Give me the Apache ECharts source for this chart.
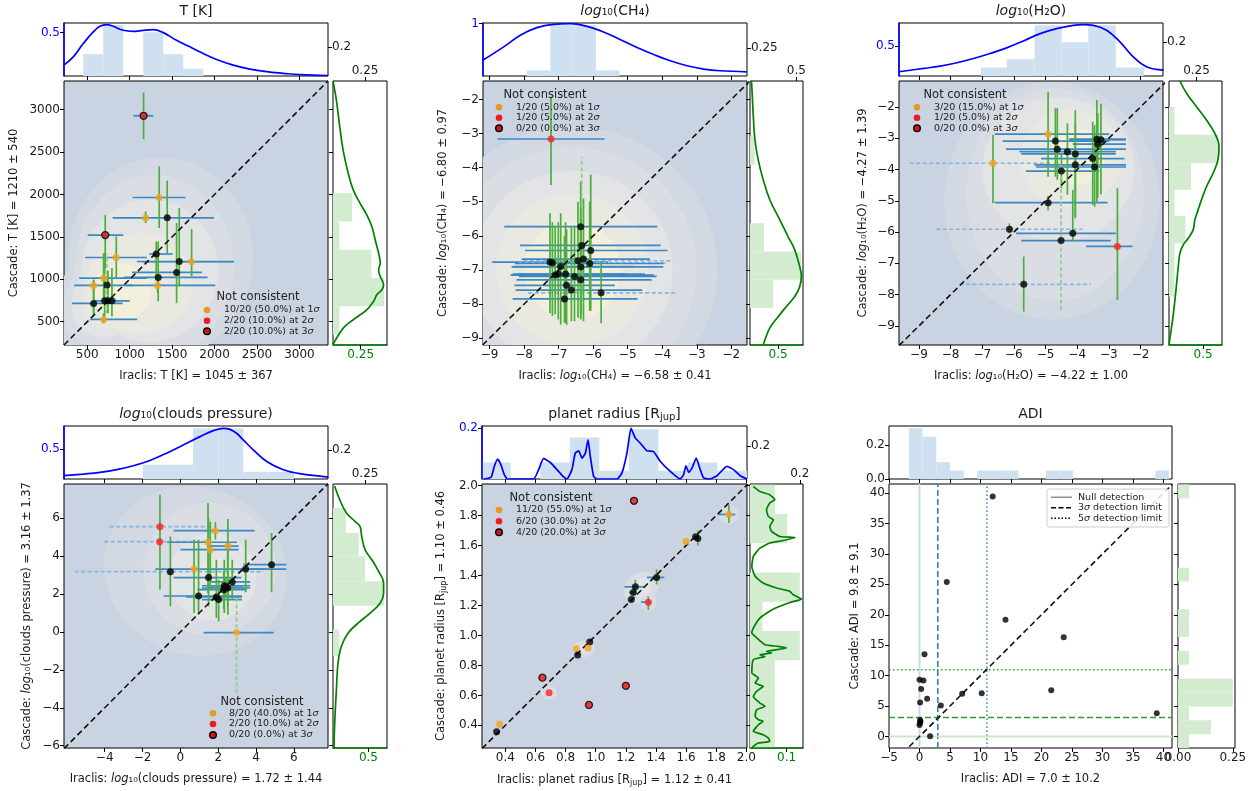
<!DOCTYPE html>
<html><head><meta charset="utf-8">
<script src="https://cdn.jsdelivr.net/npm/echarts@6/dist/echarts.min.js"></script>
<style>html,body{margin:0;padding:0;background:#fff}#c{width:1256px;height:791px}</style>
</head><body><div id="c"></div>
<script>
// ===================== DATA =====================
// Text
const panelTitles = ['T [K]', '{i|log}₁₀(CH₄)', '{i|log}₁₀(H₂O)', '{i|log}₁₀(clouds pressure)', 'planet radius [R{s|jup}]', 'ADI'];
const xNames = ['Iraclis: T [K] = 1045 ± 367', 'Iraclis: {i|log}₁₀(CH₄) = −6.58 ± 0.41', 'Iraclis: {i|log}₁₀(H₂O) = −4.22 ± 1.00', 'Iraclis: {i|log}₁₀(clouds pressure) = 1.72 ± 1.44', 'Iraclis: planet radius [R{s|jup}] = 1.12 ± 0.41', 'Iraclis: ADI = 7.0 ± 10.2'];
const yNames = ['Cascade: T [K] = 1210 ± 540', 'Cascade: {i|log}₁₀(CH₄) = −6.80 ± 0.97', 'Cascade: {i|log}₁₀(H₂O) = −4.27 ± 1.39', 'Cascade: {i|log}₁₀(clouds pressure) = 3.16 ± 1.37', 'Cascade: planet radius [R{s|jup}] = 1.10 ± 0.46', 'Cascade: ADI = 9.8 ± 9.1'];
const legendTitle = 'Not consistent';
const legendTexts = [
  ['10/20 (50.0%) at 1{i|σ}', '2/20 (10.0%) at 2{i|σ}', '2/20 (10.0%) at 3{i|σ}'],
  ['1/20 (5.0%) at 1{i|σ}', '1/20 (5.0%) at 2{i|σ}', '0/20 (0.0%) at 3{i|σ}'],
  ['3/20 (15.0%) at 1{i|σ}', '1/20 (5.0%) at 2{i|σ}', '0/20 (0.0%) at 3{i|σ}'],
  ['8/20 (40.0%) at 1{i|σ}', '2/20 (10.0%) at 2{i|σ}', '0/20 (0.0%) at 3{i|σ}'],
  ['11/20 (55.0%) at 1{i|σ}', '6/20 (30.0%) at 2{i|σ}', '4/20 (20.0%) at 3{i|σ}']
];
const adiLegendTexts = ['Null detection', '3{i|σ} detection limit', '5{i|σ} detection limit'];

// Axis ranges and ticks
const xRanges = [[226, 3337], [-9.19, -1.545], [-9.63, -1.29], [-6.15, 7.8], [0.245, 2.004], [-5, 41.4]];
const yRanges = [[226, 3337], [-9.2, -1.46], [-9.61, -1.17], [-6.12, 7.79], [0.249, 2.01], [-1.9, 41.5]];
const xTicks = [[500, 1000, 1500, 2000, 2500, 3000], [-9, -8, -7, -6, -5, -4, -3, -2], [-9, -8, -7, -6, -5, -4, -3, -2], [-4, -2, 0, 2, 4, 6], [0.4, 0.6, 0.8, 1.0, 1.2, 1.4, 1.6, 1.8, 2.0], [-5, 0, 5, 10, 15, 20, 25, 30, 35, 40]];
const yTicks = [[500, 1000, 1500, 2000, 2500, 3000], [-9, -8, -7, -6, -5, -4, -3, -2], [-9, -8, -7, -6, -5, -4, -3, -2], [-6, -4, -2, 0, 2, 4, 6], [0.4, 0.6, 0.8, 1.0, 1.2, 1.4, 1.6, 1.8, 2.0], [0, 5, 10, 15, 20, 25, 30, 35, 40]];
const topKdeMax = [0.611, 1.013, 0.879, 0.889, 0.209, null];
const topHistMax = [0.364, 0.47, 0.314, 0.368, 0.32, 0.313];
const rightHistMax = [0.421, 0.571, 0.482, 0.421, 0.213, 0.26];
const rightKdeMax = [0.488, 0.941, 0.777, 0.762, 0.145, null];
const topKdeTicks = [[0.5], [1], [0.5], [0.5], [0.2], null];
const topHistTicks = [[0.2], [0.25], [0.2], [0.2], [0.2], [0.0, 0.2]];
const rightHistTicks = [[0.25], [0.5], [0.25], [0.25], [0.2], [0, 0.25]];
const rightKdeTicks = [[0.25], [0.5], [0.5], [0.5], [0.1], null];

// Points: [x, y, xlo, xhi, ylo, yhi, category(0 ok,1 1σ,2 2σ,3 3σ), xDashed, yDashed]
const T_pts = [
  [1164, 2927, 1042, 1278, 2652, 3201, 3, 0, 0],
  [1348, 1964, 1035, 1659, 1604, 2330, 1, 0, 0],
  [1188, 1722, 1188, 1188, 1663, 1800, 1, 0, 0],
  [1442, 1725, 799, 1993, 1309, 2164, 0, 0, 0],
  [712, 1521, 505, 924, 1132, 1760, 3, 0, 0],
  [842, 1257, 476, 1203, 1014, 1505, 1, 0, 0],
  [1313, 1298, 1230, 1506, 995, 1446, 0, 0, 0],
  [1584, 1210, 1085, 2225, 916, 1839, 0, 0, 0],
  [1730, 1207, 1150, 2225, 1034, 1592, 1, 0, 0],
  [1553, 1081, 1027, 1851, 720, 1663, 0, 0, 0],
  [1336, 1022, 929, 1918, 739, 1446, 0, 0, 0],
  [693, 1015, 406, 1203, 739, 1309, 1, 0, 0],
  [575, 928, 347, 1040, 602, 995, 1, 0, 0],
  [1329, 928, 960, 2008, 838, 1034, 1, 0, 0],
  [732, 932, 700, 760, 600, 1300, 0, 0, 1],
  [575, 716, 320, 917, 562, 995, 0, 0, 0],
  [705, 747, 575, 1000, 563, 1309, 0, 0, 0],
  [744, 747, 700, 790, 600, 1100, 0, 0, 0],
  [791, 747, 720, 860, 562, 1133, 0, 0, 0],
  [693, 527, 535, 1089, 480, 600, 1, 0, 0]
];
const CH4_pts = [
  [-6.36, -5.73, -8.575, -4.143, -8.2, -4.4, 0, 0, 0],
  [-6.33, -6.28, -8.12, -4.047, -8.3, -3.68, 0, 0, 1],
  [-6.07, -6.43, -7.977, -3.844, -8.2, -4.2, 0, 0, 0],
  [-7.25, -6.77, -8.923, -5.563, -8.27, -5.34, 0, 0, 0],
  [-7.18, -6.79, -8.17, -3.873, -8.35, -5.6, 0, 1, 0],
  [-6.44, -6.73, -8.025, -3.68, -8.4, -5.0, 0, 1, 0],
  [-6.28, -6.68, -8.073, -4.356, -8.5, -4.9, 0, 0, 0],
  [-6.10, -6.81, -8.266, -3.97, -8.2, -5.0, 0, 0, 0],
  [-6.36, -6.91, -8.363, -3.97, -8.45, -5.2, 0, 0, 0],
  [-6.94, -6.90, -8.314, -4.79, -8.6, -5.34, 0, 0, 0],
  [-7.01, -7.12, -8.334, -5.05, -8.45, -5.6, 0, 0, 0],
  [-7.10, -7.15, -8.392, -4.24, -8.3, -5.7, 0, 0, 0],
  [-6.80, -7.12, -8.2, -4.5, -8.55, -5.6, 0, 0, 0],
  [-6.54, -7.19, -8.15, -4.163, -8.5, -5.7, 0, 0, 0],
  [-6.36, -7.29, -8.218, -4.307, -8.4, -5.5, 0, 0, 0],
  [-6.77, -7.45, -8.286, -5.37, -8.61, -5.8, 0, 0, 0],
  [-6.63, -7.59, -8.247, -4.578, -8.5, -5.75, 0, 0, 0],
  [-5.77, -7.67, -7.88, -3.554, -8.56, -6.75, 0, 1, 0],
  [-6.83, -7.85, -8.334, -4.713, -8.55, -6.0, 0, 0, 0],
  [-7.22, -3.16, -8.77, -5.67, -4.51, -1.92, 2, 0, 0]
];
const H2O_pts = [
  [-4.92, -2.87, -6.61, -2.99, -4.23, -1.51, 1, 0, 0],
  [-6.66, -3.80, -9.29, -4.77, -5.08, -2.89, 1, 1, 0],
  [-4.69, -3.09, -6.35, -2.99, -4.23, -2.04, 0, 0, 0],
  [-4.63, -3.35, -6.25, -2.46, -4.33, -2.04, 0, 0, 0],
  [-4.31, -3.43, -5.83, -2.78, -4.81, -2.52, 0, 0, 0],
  [-4.06, -3.50, -5.77, -2.78, -5.5, -2.1, 0, 0, 0],
  [-4.06, -3.85, -5.35, -2.46, -5.56, -2.52, 0, 0, 0],
  [-4.50, -4.05, -5.62, -3.30, -4.6, -3.5, 0, 0, 0],
  [-3.51, -3.65, -5.14, -2.51, -5.13, -2.47, 0, 0, 0],
  [-3.45, -3.92, -5.30, -2.46, -5.19, -2.58, 0, 0, 0],
  [-3.38, -3.03, -4.25, -2.46, -5.03, -1.78, 0, 0, 0],
  [-3.25, -3.05, -4.25, -2.46, -4.8, -1.9, 0, 0, 0],
  [-3.35, -3.19, -4.14, -2.46, -4.9, -2.2, 0, 0, 0],
  [-4.92, -5.06, -6.61, -3.04, -5.3, -4.85, 0, 0, 0],
  [-6.14, -5.91, -8.45, -3.83, -6.04, -5.72, 0, 1, 0],
  [-4.14, -6.04, -5.93, -2.78, -6.3, -4.65, 0, 0, 0],
  [-4.51, -6.27, -5.77, -2.94, -8.49, -3.85, 0, 0, 1],
  [-2.73, -6.46, -3.72, -2.25, -8.17, -4.6, 2, 0, 0],
  [-5.69, -7.67, -7.72, -3.57, -8.54, -6.78, 0, 1, 0]
];
const CP_pts = [
  [-1.08, 5.54, -3.74, 1.67, 2.22, 7.23, 2, 1, 0],
  [-1.10, 4.75, -4.02, 1.49, 4.6, 4.9, 2, 1, 0],
  [1.85, 5.33, -0.36, 3.92, 4.86, 5.79, 1, 0, 0],
  [1.46, 4.72, -0.71, 2.99, 2.05, 6.79, 1, 0, 0],
  [1.58, 4.33, 0.0, 3.08, 2.2, 5.8, 1, 0, 0],
  [2.51, 4.52, 1.58, 3.08, 0.9, 5.95, 1, 0, 0],
  [0.72, 3.31, -1.32, 4.49, 0.99, 4.86, 1, 0, 0],
  [2.97, -0.04, 1.23, 4.93, -3.22, 1.87, 1, 0, 1],
  [-0.53, 3.17, -5.58, 4.4, 1.34, 5.03, 0, 1, 0],
  [1.49, 2.86, -0.36, 3.22, 1.34, 6.0, 0, 0, 0],
  [0.96, 1.89, -0.88, 3.25, 0.9, 4.86, 0, 0, 0],
  [1.90, 1.84, 0.3, 3.25, 0.73, 3.8, 0, 0, 0],
  [2.02, 1.70, 1.14, 3.25, 0.55, 2.75, 0, 0, 0],
  [2.32, 2.43, 1.14, 3.69, 0.99, 3.8, 0, 0, 0],
  [2.50, 2.31, 1.14, 3.69, 1.34, 4.51, 0, 0, 0],
  [2.74, 2.63, 1.58, 3.69, 1.7, 3.8, 0, 0, 0],
  [2.29, 2.22, 0.9, 3.5, 1.2, 3.2, 0, 0, 0],
  [3.45, 3.31, 3.15, 5.6, 2.08, 4.86, 0, 0, 0],
  [4.82, 3.54, 3.32, 5.6, 2.08, 5.21, 0, 0, 0],
  [2.40, 2.35, 1.5, 3.3, 1.8, 2.9, 0, 0, 0]
];
const R_pts = [
  [1.254, 1.898, 1.254, 1.254, 1.898, 1.898, 3, 0, 0],
  [1.884, 1.807, 1.816, 1.926, 1.75, 1.87, 1, 0, 0],
  [1.599, 1.627, 1.599, 1.599, 1.627, 1.627, 1, 0, 0],
  [1.663, 1.658, 1.663, 1.663, 1.658, 1.658, 0, 0, 0],
  [1.678, 1.647, 1.678, 1.678, 1.6, 1.7, 0, 0, 0],
  [1.404, 1.387, 1.34, 1.455, 1.34, 1.44, 0, 0, 0],
  [1.263, 1.324, 1.19, 1.318, 1.28, 1.37, 0, 0, 0],
  [1.249, 1.287, 1.22, 1.27, 1.27, 1.3, 0, 0, 0],
  [1.236, 1.240, 1.236, 1.236, 1.24, 1.24, 0, 0, 0],
  [1.349, 1.222, 1.3, 1.36, 1.17, 1.26, 2, 0, 0],
  [0.960, 0.956, 0.96, 0.96, 0.956, 0.956, 0, 0, 0],
  [0.949, 0.916, 0.949, 0.949, 0.916, 0.916, 1, 0, 0],
  [0.871, 0.911, 0.871, 0.871, 0.911, 0.911, 1, 0, 0],
  [0.880, 0.869, 0.88, 0.88, 0.869, 0.869, 0, 0, 0],
  [0.646, 0.718, 0.646, 0.646, 0.718, 0.718, 3, 0, 0],
  [0.690, 0.618, 0.69, 0.69, 0.618, 0.618, 2, 0, 0],
  [1.200, 0.664, 1.2, 1.2, 0.664, 0.664, 3, 0, 0],
  [0.955, 0.536, 0.955, 0.955, 0.536, 0.536, 3, 0, 0],
  [0.362, 0.407, 0.362, 0.362, 0.407, 0.407, 1, 0, 0],
  [0.342, 0.358, 0.342, 0.342, 0.358, 0.358, 0, 0, 0]
];
const ADI_pts = [[12.0, 39.45], [4.47, 25.4], [14.1, 19.2], [23.65, 16.3], [0.82, 13.5], [0, 9.3], [0.65, 9.2], [0.27, 7.8], [1.25, 6.2], [0.1, 5.6], [3.5, 5.1], [7.0, 7.0], [10.2, 7.1], [21.6, 7.6], [38.9, 3.8], [0.1, 2.7], [0.1, 2.2], [0, 1.9], [1.74, 0.05], [0.15, 2.45]];
const ADI_xLimits = [0, 3.0, 11.06];   // null, 3σ, 5σ (Iraclis)
const ADI_yLimits = [0, 3.12, 10.96];  // null, 3σ, 5σ (Cascade)

// KDE contour levels approximated as ellipses: [cx, cy, rx, ry, rotationDeg, level]
const T_contours = [
  [1366, 1250, 1090, 1190, 0, 0], [1000, 1000, 1100, 650, 45, 0],
  [1290, 1150, 935, 1080, 0, 1], [1000, 1000, 950, 560, 45, 1],
  [1240, 1100, 805, 840, 0, 2], [950, 950, 750, 480, 45, 2],
  [1120, 950, 620, 600, 0, 3], [900, 880, 520, 380, 45, 3],
  [900, 850, 350, 330, 0, 4]
];
const CH4_contours = [[-6.6, -7.0, 4.2, 4.2, 0, 0], [-6.6, -7.0, 3.6, 3.6, 0, 1], [-6.6, -7.0, 2.9, 2.9, 0, 2], [-6.6, -7.0, 2.2, 2.25, 0, 3], [-6.6, -7.0, 1.4, 1.45, 0, 4]];
const H2O_contours = [[-4.8, -5.0, 3.4, 3.8, 0, 0], [-4.7, -4.8, 2.8, 3.4, 0, 1], [-4.6, -4.0, 2.4, 2.3, 0, 2], [-4.2, -3.65, 1.6, 1.55, 0, 3], [-4.0, -3.6, 0.9, 0.9, 0, 4]];
const CP_contours = [[0.8, 3.2, 4.9, 4.4, -20, 0], [1.55, 3.3, 3.5, 3.5, 0, 1], [1.7, 2.9, 2.3, 2.3, 0, 2], [2.0, 2.6, 1.3, 1.3, 0, 3], [2.2, 2.5, 0.6, 0.6, 0, 4]];
const R_contours = [[1.884, 1.807, 0.065, 0.065, 0, 0], [1.3, 1.32, 0.12, 0.1, 30, 0], [1.35, 1.22, 0.055, 0.06, 0, 0], [0.92, 0.91, 0.075, 0.055, 0, 0], [0.69, 0.62, 0.055, 0.045, 0, 0], [1.67, 1.65, 0.035, 0.035, 0, 0], [1.3, 1.32, 0.07, 0.06, 30, 1], [0.92, 0.91, 0.04, 0.03, 0, 1]];

// Top histograms [x0, x1, height] and KDE [x, density]
const T_topHist = [[453, 688, 0.15], [688, 924, 0.35], [1160, 1395, 0.3], [1395, 1631, 0.15], [1631, 1867, 0.05]];
const T_topKde = [[225, 0.126], [335, 0.221], [453, 0.374], [571, 0.508], [649, 0.573], [728, 0.592], [806, 0.573], [924, 0.527], [1042, 0.515], [1160, 0.527], [1278, 0.534], [1395, 0.5], [1552, 0.412], [1710, 0.336], [1867, 0.26], [2024, 0.191], [2220, 0.126], [2416, 0.08], [2613, 0.05], [2809, 0.031], [3005, 0.015], [3339, 0.004]];
const CH4_topHist = [[-7.92, -7.24, 0.05], [-7.24, -6.59, 0.45], [-6.59, -5.92, 0.45], [-5.92, -5.24, 0.05]];
const CH4_topKde = [[-9.19, 0.304], [-8.59, 0.557], [-8.11, 0.778], [-7.63, 0.924], [-7.15, 0.987], [-6.66, 1.0], [-6.18, 0.949], [-5.7, 0.842], [-5.22, 0.696], [-4.73, 0.544], [-4.25, 0.411], [-3.77, 0.291], [-3.28, 0.196], [-2.8, 0.133], [-2.32, 0.1], [-1.55, 0.08]];
const H2O_topHist = [[-7.04, -6.23, 0.05], [-6.23, -5.35, 0.1], [-5.35, -4.49, 0.3], [-4.49, -3.65, 0.2], [-3.65, -2.78, 0.3], [-2.78, -1.89, 0.05]];
const H2O_topKde = [[-9.63, 0.071], [-8.85, 0.126], [-8.33, 0.165], [-7.8, 0.22], [-7.28, 0.291], [-6.75, 0.374], [-6.23, 0.467], [-5.7, 0.582], [-5.17, 0.703], [-4.65, 0.786], [-4.12, 0.841], [-3.81, 0.852], [-3.49, 0.841], [-3.07, 0.758], [-2.65, 0.566], [-2.23, 0.319], [-1.81, 0.154], [-1.28, 0.099]];
const CP_topHist = [[-1.99, -0.66, 0.1], [-0.66, 0.67, 0.1], [0.67, 2.0, 0.35], [2.0, 3.33, 0.35], [3.33, 4.66, 0.05], [4.66, 5.99, 0.05]];
const CP_topKde = [[-6.15, 0.056], [-5.13, 0.083], [-4.25, 0.111], [-3.37, 0.156], [-2.49, 0.222], [-1.61, 0.311], [-0.73, 0.433], [0.15, 0.572], [1.04, 0.711], [1.74, 0.811], [2.27, 0.85], [2.62, 0.833], [2.97, 0.767], [3.32, 0.656], [3.85, 0.489], [4.56, 0.294], [5.44, 0.156], [6.32, 0.089], [7.81, 0.033]];
const R_topHist = [[0.24, 0.436, 0.1], [0.632, 0.828, 0.1], [0.828, 1.024, 0.25], [1.024, 1.22, 0.05], [1.22, 1.416, 0.3], [1.416, 1.612, 0.05], [1.612, 1.808, 0.1], [1.808, 2.004, 0.05]];
const R_topKde = [[0.256, 0], [0.289, 0.003], [0.307, 0.008], [0.327, 0.05], [0.349, 0.078], [0.371, 0.056], [0.393, 0.017], [0.415, 0], [0.588, 0], [0.621, 0.037], [0.654, 0.081], [0.699, 0.065], [0.743, 0.037], [0.787, 0.008], [0.809, 0], [0.842, 0.037], [0.864, 0.102], [0.887, 0.111], [0.909, 0.082], [0.931, 0.102], [0.949, 0.154], [0.964, 0.089], [0.986, 0.01], [1.008, 0], [1.141, 0], [1.174, 0.024], [1.207, 0.102], [1.234, 0.2], [1.263, 0.161], [1.296, 0.141], [1.34, 0.111], [1.384, 0.108], [1.429, 0.069], [1.495, 0.03], [1.561, 0], [1.583, 0.017], [1.599, 0.052], [1.617, 0.026], [1.639, 0.043], [1.667, 0.082], [1.694, 0.037], [1.716, 0.004], [1.76, 0], [1.805, 0.013], [1.871, 0.05], [1.915, 0.037], [1.959, 0.013], [2.004, 0]];
const ADI_topHist = [[-1.73, 0.51, 0.3], [0.51, 2.76, 0.25], [2.76, 5.0, 0.1], [5.0, 7.25, 0.05], [9.49, 11.73, 0.05], [11.73, 13.98, 0.05], [13.98, 16.22, 0.05], [20.71, 22.95, 0.05], [22.95, 25.2, 0.05], [38.66, 40.9, 0.05]];

// Right histograms [y0, y1, width] and KDE [density, y]
const T_rightHist = [[349, 682, 0.05], [682, 1015, 0.4], [1015, 1348, 0.3], [1348, 1681, 0.05], [1681, 2015, 0.15]];
const T_rightKde = [[0, 3338], [0.03, 3114], [0.061, 2800], [0.091, 2525], [0.137, 2251], [0.183, 2054], [0.244, 1897], [0.305, 1760], [0.351, 1623], [0.381, 1466], [0.412, 1309], [0.427, 1191], [0.412, 1112], [0.427, 1034], [0.457, 936], [0.442, 877], [0.396, 818], [0.366, 739], [0.305, 641], [0.183, 524], [0.107, 445], [0.061, 367], [0.015, 268], [0, 229]];
const CH4_rightHist = [[-3.92, -3.09, 0.05], [-6.46, -5.63, 0.15], [-7.29, -6.46, 0.55], [-8.12, -7.29, 0.25]];
const CH4_rightKde = [[0.02, -1.46], [0.029, -1.53], [0.059, -2.51], [0.088, -3.19], [0.147, -3.78], [0.235, -4.36], [0.353, -4.95], [0.529, -5.53], [0.676, -6.02], [0.794, -6.41], [0.882, -6.9], [0.912, -7.19], [0.882, -7.49], [0.794, -7.78], [0.647, -8.07], [0.5, -8.37], [0.353, -8.7], [0.265, -9.05], [0.235, -9.2]];
const H2O_rightHist = [[-2.89, -1.99, 0.05], [-3.8, -2.89, 0.45], [-4.65, -3.8, 0.2], [-5.48, -4.65, 0.05], [-6.36, -5.48, 0.15], [-7.21, -6.36, 0.05], [-8.06, -7.21, 0.05]];
const H2O_rightKde = [[0.16, -1.17], [0.257, -1.56], [0.403, -1.99], [0.549, -2.42], [0.67, -2.84], [0.733, -3.27], [0.718, -3.69], [0.646, -4.12], [0.549, -4.55], [0.476, -4.97], [0.427, -5.29], [0.379, -5.61], [0.354, -5.93], [0.282, -6.2], [0.209, -6.41], [0.16, -6.68], [0.136, -7.1], [0.112, -7.64], [0.087, -8.17], [0.053, -8.81], [0.024, -9.24], [0, -9.61]];
const CP_rightHist = [[5.21, 6.53, 0.1], [3.98, 5.21, 0.2], [2.66, 3.98, 0.25], [1.38, 2.66, 0.4], [-1.29, 0.11, 0.05]];
const CP_rightKde = [[0.024, 7.67], [0.095, 6.96], [0.19, 6.26], [0.31, 5.82], [0.381, 5.56], [0.405, 5.03], [0.452, 4.33], [0.548, 3.8], [0.643, 3.19], [0.714, 2.57], [0.714, 2.05], [0.667, 1.52], [0.524, 0.99], [0.357, 0.47], [0.214, -0.06], [0.119, -0.76], [0.071, -1.64], [0.048, -3.05], [0.024, -4.8], [0.014, -6.12]];
const R_rightHist = [[1.81, 2.005, 0.1], [1.615, 1.81, 0.15], [1.225, 1.42, 0.2], [1.03, 1.225, 0.05], [0.835, 1.03, 0.2], [0.64, 0.835, 0.1], [0.445, 0.64, 0.1], [0.25, 0.445, 0.1]];
const R_rightKde = [[0.009, 1.994], [0.027, 1.96], [0.054, 1.938], [0.068, 1.905], [0.054, 1.883], [0.045, 1.838], [0.05, 1.794], [0.064, 1.771], [0.054, 1.727], [0.059, 1.694], [0.082, 1.66], [0.123, 1.653], [0.091, 1.633], [0.054, 1.616], [0.027, 1.582], [0.009, 1.527], [0.005, 1.46], [0.014, 1.394], [0.036, 1.349], [0.073, 1.316], [0.109, 1.294], [0.118, 1.271], [0.141, 1.242], [0.109, 1.22], [0.064, 1.176], [0.027, 1.116], [0.009, 1.049], [0.005, 1.016], [0.014, 0.993], [0.041, 0.938], [0.077, 0.927], [0.1, 0.916], [0.045, 0.893], [0.059, 0.882], [0.027, 0.871], [0.041, 0.86], [0.009, 0.838], [0.005, 0.749], [0.023, 0.716], [0.014, 0.682], [0.036, 0.66], [0.018, 0.627], [0.009, 0.593], [0.027, 0.549], [0.041, 0.527], [0.018, 0.504], [0.014, 0.46], [0.023, 0.438], [0.036, 0.427], [0.023, 0.404], [0.009, 0.36], [0.036, 0.338], [0.05, 0.316], [0.054, 0.293], [0.023, 0.282], [0.009, 0.26], [0.005, 0.249]];
const ADI_rightHist = [[-1.9, 0.38, 0.05], [0.38, 2.66, 0.15], [2.66, 4.94, 0.05], [4.94, 7.22, 0.25], [7.22, 9.5, 0.25], [11.78, 14.06, 0.05], [16.34, 18.62, 0.05], [18.62, 20.9, 0.05], [25.46, 27.74, 0.05], [39.14, 41.42, 0.05]];

// ===================== STYLE / LAYOUT =====================
const FONT = 'DejaVu Sans';
const BG = '#c9d3e1';
const LEVEL_COLORS = ['#d3d9e2', '#dadee4', '#e2e4e5', '#eae9e1', '#f2f0da'];
const HALO_COLORS = ['#d8dce4', '#e3e4e8'];
const CAT_COLORS = ['#000000', '#f5a21c', '#ff2222', '#e8171b'];
const LEG_COLORS = ['#e39b1e', '#ee1b22', '#d0161c'];
const LAYOUT = [
  {main: [64, 81, 264, 264], top: [64, 23, 264, 53], right: [333, 81, 54, 264], yGap: 44, xGap: 25, dec: 0},
  {main: [483, 81, 264, 264], top: [483, 23, 264, 53], right: [750, 81, 53, 264], yGap: 34, xGap: 25, dec: 0},
  {main: [899, 81, 264, 264], top: [899, 23, 264, 53], right: [1169, 81, 53, 264], yGap: 30, xGap: 25, dec: 0},
  {main: [64, 484, 264, 264], top: [64, 426, 264, 53], right: [333, 484, 54, 264], yGap: 31, xGap: 25, dec: 0},
  {main: [482, 484, 265, 264], top: [482, 426, 265, 53], right: [750, 484, 53, 264], yGap: 34, xGap: 25, dec: 1},
  {main: [889, 484, 283, 264], top: [889, 426, 283, 53], right: [1178, 484, 57, 264], yGap: 28, xGap: 25, dec: 0}
];
const LEG_POS = [
  {tx: 258, ty: 297, mx: 207, x0: 224, ys: [310, 320.7, 331.3]},
  {tx: 545, ty: 95, mx: 499, x0: 516, ys: [107.3, 117.7, 128.3]},
  {tx: 965, ty: 95, mx: 917, x0: 934, ys: [107.3, 117.7, 128.3]},
  {tx: 262, ty: 702, mx: 213, x0: 229, ys: [713.3, 724, 735]},
  {tx: 551, ty: 498, mx: 499, x0: 516, ys: [510, 521.3, 532.3]}
];

// ===================== BUILD =====================
const option = {animation: false, backgroundColor: '#ffffff', grid: [], xAxis: [], yAxis: [], series: [], graphic: []};

function fmt(v, dec) {
  const s = (dec === undefined || dec === null) ? String(Math.round(v * 1e6) / 1e6) : Number(v).toFixed(dec);
  return s.replace('-', '\u2212');
}
function rich(fs) {
  return {
    i: {fontStyle: 'italic', fontFamily: FONT, fontSize: fs, color: '#1a1a1a'},
    s: {fontFamily: FONT, fontSize: Math.round(fs * 0.7), color: '#1a1a1a', verticalAlign: 'bottom', padding: [Math.round(fs * 0.5), 0, 0, 0]}
  };
}
function addGrid(r, bg) {
  option.grid.push({left: r[0], top: r[1], width: r[2], height: r[3], show: true, backgroundColor: bg, borderColor: '#000', borderWidth: 1, z: 1});
  return option.grid.length - 1;
}
function addAxis(kind, gi, range, pos, ticks, o) {
  o = o || {};
  const ax = {
    type: 'value', gridIndex: gi, min: range[0], max: range[1], position: pos,
    axisLine: {show: !!o.lineColor, onZero: false, lineStyle: {color: o.lineColor || '#000', width: 1.6}},
    splitLine: {show: false},
    axisTick: {show: !!ticks, inside: false, length: 4, customValues: ticks || [], lineStyle: {color: '#000', width: 1}},
    axisLabel: {show: !!o.labels && !!ticks, customValues: ticks || [], margin: 4, fontFamily: FONT, fontSize: 12, color: o.labelColor || '#1a1a1a', formatter: (v) => fmt(v, o.dec)},
    z: 6
  };
  if (o.name) {
    ax.name = o.name; ax.nameLocation = 'middle'; ax.nameGap = o.gap; ax.nameRotate = kind === 'y' ? 90 : 0;
    ax.nameTextStyle = {fontFamily: FONT, fontSize: 11.5, color: '#1a1a1a', rich: rich(11.5)};
  }
  const arr = kind === 'x' ? option.xAxis : option.yAxis;
  arr.push(ax);
  return arr.length - 1;
}
function ellipseRender(colors) {
  return function (params, api) {
    const c = api.coord([api.value(0), api.value(1)]);
    const s = api.size([api.value(2), api.value(3)]);
    const rot = api.value(4) * Math.PI / 180, lvl = api.value(5);
    const pts = [];
    for (let i = 0; i < 90; i++) {
      const t = i / 90 * Math.PI * 2, ex = s[0] * Math.cos(t), ey = s[1] * Math.sin(t);
      pts.push([c[0] + ex * Math.cos(rot) - ey * Math.sin(rot), c[1] - (ex * Math.sin(rot) + ey * Math.cos(rot))]);
    }
    return {type: 'polygon', shape: {points: pts}, style: {fill: colors[lvl]}};
  };
}
function xErrRender(params, api) {
  const y = api.value(1), lo = api.value(2), hi = api.value(3), d = api.value(7);
  if (!(hi > lo)) return {type: 'group', children: []};
  const a = api.coord([lo, y]), b = api.coord([hi, y]);
  return {type: 'line', shape: {x1: a[0], y1: a[1], x2: b[0], y2: b[1]}, style: {stroke: d ? '#86b4dc' : '#3d87c4', lineWidth: 1.7, lineDash: d ? [4, 2.5] : null}};
}
function yErrRender(params, api) {
  const x = api.value(0), lo = api.value(4), hi = api.value(5), d = api.value(8);
  if (!(hi > lo)) return {type: 'group', children: []};
  const a = api.coord([x, lo]), b = api.coord([x, hi]);
  return {type: 'line', shape: {x1: a[0], y1: a[1], x2: b[0], y2: b[1]}, style: {stroke: d ? '#8fcf86' : '#4cae40', lineWidth: 1.7, lineDash: d ? [4, 2.5] : null}};
}
function vHist(fill) {
  return function (params, api) {
    const a = api.coord([api.value(0), api.value(2)]), b = api.coord([api.value(1), 0]);
    return {type: 'rect', shape: {x: a[0], y: a[1], width: b[0] - a[0], height: b[1] - a[1]}, style: {fill: fill}};
  };
}
function hHist(fill) {
  return function (params, api) {
    const a = api.coord([0, api.value(1)]), b = api.coord([api.value(2), api.value(0)]);
    return {type: 'rect', shape: {x: a[0], y: a[1], width: b[0] - a[0], height: b[1] - a[1]}, style: {fill: fill}};
  };
}
function addText(x, y, text, fs, color, align, extra) {
  option.graphic.push(Object.assign({
    type: 'text', x: x, y: y, z: 100,
    style: {text: text, fontFamily: FONT, fontSize: fs, fill: color, align: align, textAlign: align, verticalAlign: 'middle', textVerticalAlign: 'middle', rich: rich(fs)}
  }, extra || {}));
}

const PANELS = [
  {pts: T_pts, contours: T_contours, cColors: LEVEL_COLORS, topHist: T_topHist, topKde: T_topKde, rightHist: T_rightHist, rightKde: T_rightKde},
  {pts: CH4_pts, contours: CH4_contours, cColors: LEVEL_COLORS, topHist: CH4_topHist, topKde: CH4_topKde, rightHist: CH4_rightHist, rightKde: CH4_rightKde},
  {pts: H2O_pts, contours: H2O_contours, cColors: LEVEL_COLORS, topHist: H2O_topHist, topKde: H2O_topKde, rightHist: H2O_rightHist, rightKde: H2O_rightKde},
  {pts: CP_pts, contours: CP_contours, cColors: LEVEL_COLORS, topHist: CP_topHist, topKde: CP_topKde, rightHist: CP_rightHist, rightKde: CP_rightKde},
  {pts: R_pts, contours: R_contours, cColors: HALO_COLORS, topHist: R_topHist, topKde: R_topKde, rightHist: R_rightHist, rightKde: R_rightKde},
  {pts: null, contours: null, topHist: ADI_topHist, topKde: null, rightHist: ADI_rightHist, rightKde: null}
];

PANELS.forEach((P, k) => {
  const L = LAYOUT[k];
  const xr = xRanges[k], yr = yRanges[k];
  const isADI = k === 5;
  // ---- main ----
  const gm = addGrid(L.main, isADI ? '#ffffff' : BG);
  const xm = addAxis('x', gm, xr, 'bottom', xTicks[k], {labels: true, dec: L.dec, name: xNames[k], gap: L.xGap});
  const ym = addAxis('y', gm, yr, 'left', yTicks[k], {labels: true, dec: L.dec, name: yNames[k], gap: L.yGap});
  if (P.contours) {
    option.series.push({type: 'custom', xAxisIndex: xm, yAxisIndex: ym, data: P.contours, renderItem: ellipseRender(P.cColors), clip: true, silent: true, z: 3});
  }
  if (isADI) {
    const lineStyles = [
      {color: '#c6dbef', width: 2, type: 'solid'},
      {color: '#2f80c8', width: 1.6, type: [6, 3]},
      {color: '#3a8fd6', width: 1.6, type: [1.5, 2.5]}
    ];
    const hStyles = [
      {color: '#c9e8c3', width: 2, type: 'solid'},
      {color: '#2ca02c', width: 1.6, type: [6, 3]},
      {color: '#2ca02c', width: 1.6, type: [1.5, 2.5]}
    ];
    ADI_xLimits.forEach((v, i) => option.series.push({type: 'line', xAxisIndex: xm, yAxisIndex: ym, data: [[v, yr[0]], [v, yr[1]]], symbol: 'none', lineStyle: lineStyles[i], silent: true, z: 3}));
    ADI_yLimits.forEach((v, i) => option.series.push({type: 'line', xAxisIndex: xm, yAxisIndex: ym, data: [[xr[0], v], [xr[1], v]], symbol: 'none', lineStyle: hStyles[i], silent: true, z: 3}));
  }
  if (P.pts) {
    option.series.push({type: 'custom', xAxisIndex: xm, yAxisIndex: ym, data: P.pts, renderItem: xErrRender, clip: true, silent: true, z: 4});
    option.series.push({type: 'custom', xAxisIndex: xm, yAxisIndex: ym, data: P.pts, renderItem: yErrRender, clip: true, silent: true, z: 4});
  }
  const lo = Math.min(xr[0], yr[0]), hi = Math.max(xr[1], yr[1]);
  option.series.push({type: 'line', xAxisIndex: xm, yAxisIndex: ym, data: [[lo, lo], [hi, hi]], symbol: 'none', lineStyle: {color: '#111', width: 1.6, type: [6, 3.5]}, silent: true, z: 5});
  if (P.pts) {
    option.series.push({
      type: 'scatter', xAxisIndex: xm, yAxisIndex: ym, symbolSize: 7, silent: true, z: 6,
      data: P.pts.map(p => ({value: [p[0], p[1]], itemStyle: {color: CAT_COLORS[p[6]], borderColor: p[6] === 3 ? '#000' : CAT_COLORS[p[6]], borderWidth: p[6] === 3 ? 1.3 : 0}}))
    });
  } else {
    option.series.push({type: 'scatter', xAxisIndex: xm, yAxisIndex: ym, symbolSize: 6, silent: true, z: 6, itemStyle: {color: '#000'}, data: ADI_pts});
  }
  // ---- top marginal ----
  const gt = addGrid(L.top, '#ffffff');
  const xt = addAxis('x', gt, xr, 'bottom', xTicks[k], {labels: false});
  if (isADI) {
    const yh = addAxis('y', gt, [0, topHistMax[k]], 'left', topHistTicks[k], {labels: true, dec: 1});
    option.series.push({type: 'custom', xAxisIndex: xt, yAxisIndex: yh, data: P.topHist, renderItem: vHist('#cfe1f0'), clip: true, silent: true, z: 3});
  } else {
    const yk = addAxis('y', gt, [0, topKdeMax[k]], 'left', topKdeTicks[k], {labels: true, labelColor: '#0000ff', lineColor: '#0000ff'});
    const yh = addAxis('y', gt, [0, topHistMax[k]], 'right', topHistTicks[k], {labels: true});
    option.series.push({type: 'custom', xAxisIndex: xt, yAxisIndex: yh, data: P.topHist, renderItem: vHist('#cfe1f0'), clip: true, silent: true, z: 3});
    option.series.push({type: 'line', xAxisIndex: xt, yAxisIndex: yk, data: P.topKde, symbol: 'none', smooth: k === 4 ? 0.15 : 0.4, lineStyle: {color: '#0000ff', width: 1.7}, silent: true, z: 4});
  }
  // ---- right marginal ----
  const gr = addGrid(L.right, '#ffffff');
  const yrr = addAxis('y', gr, yr, 'left', yTicks[k], {labels: false});
  if (isADI) {
    const xh = addAxis('x', gr, [0, rightHistMax[k]], 'bottom', rightHistTicks[k], {labels: true, dec: 2});
    option.series.push({type: 'custom', xAxisIndex: xh, yAxisIndex: yrr, data: P.rightHist, renderItem: hHist('#d3ecd0'), clip: true, silent: true, z: 3});
  } else {
    const xh = addAxis('x', gr, [0, rightHistMax[k]], 'top', rightHistTicks[k], {labels: true});
    const xk = addAxis('x', gr, [0, rightKdeMax[k]], 'bottom', rightKdeTicks[k], {labels: true, labelColor: '#008000', lineColor: '#008000'});
    option.series.push({type: 'custom', xAxisIndex: xh, yAxisIndex: yrr, data: P.rightHist, renderItem: hHist('#d3ecd0'), clip: true, silent: true, z: 3});
    option.series.push({type: 'line', xAxisIndex: xk, yAxisIndex: yrr, data: P.rightKde, symbol: 'none', smooth: k === 4 ? 0.15 : 0.4, lineStyle: {color: '#008000', width: 1.7}, silent: true, z: 4});
  }
  // ---- title ----
  addText(L.main[0] + L.main[2] / 2, L.top[1] - 12, panelTitles[k], 14, '#1a1a1a', 'center');
  // ---- legend ----
  if (!isADI) {
    const G = LEG_POS[k];
    addText(G.tx, G.ty, legendTitle, 11.5, '#222', 'center');
    for (let i = 0; i < 3; i++) {
      option.graphic.push({type: 'circle', z: 100, shape: {cx: G.mx, cy: G.ys[i], r: 3.3}, style: {fill: LEG_COLORS[i], stroke: i === 2 ? '#000' : LEG_COLORS[i], lineWidth: i === 2 ? 1.4 : 0}});
      addText(G.x0, G.ys[i], legendTexts[k][i], 9.5, '#222', 'left');
    }
  }
});

// ADI legend box
option.graphic.push({type: 'rect', z: 99, shape: {x: 1047, y: 489, width: 122, height: 38, r: 2}, style: {fill: 'rgba(255,255,255,0.85)', stroke: '#cccccc', lineWidth: 1}});
const adiLegLines = [
  {stroke: '#8c8c8c', lineDash: null},
  {stroke: '#000000', lineDash: [5, 2.5]},
  {stroke: '#000000', lineDash: [1.5, 2]}
];
[497.3, 507.7, 518.3].forEach((yy, i) => {
  option.graphic.push({type: 'line', z: 100, shape: {x1: 1051, y1: yy, x2: 1072, y2: yy}, style: {stroke: adiLegLines[i].stroke, lineWidth: 1.5, lineDash: adiLegLines[i].lineDash}});
  addText(1078, yy, adiLegendTexts[i], 9.5, '#222', 'left');
});

const chart = echarts.init(document.getElementById('c'), null, {renderer: 'canvas'});
chart.setOption(option);
</script></body></html>
